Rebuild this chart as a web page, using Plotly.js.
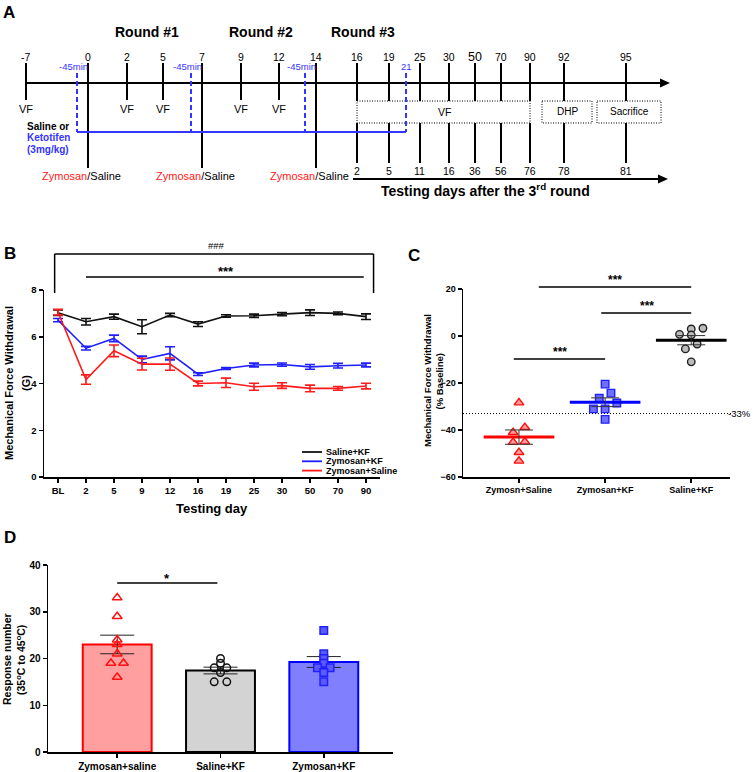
<!DOCTYPE html>
<html><head><meta charset="utf-8">
<script src="https://cdn.plot.ly/plotly-3.0.1.min.js"></script>
<style>html,body{margin:0;padding:0;background:#fff}#chart{width:753px;height:772px}</style>
</head><body><div id="chart"></div>
<script>
// ===================== DATA =====================
// Panel A: experimental timeline (schematic)
const timelineDays = ['-7','0','2','5','7','9','12','14','16','19','25','30','50','70','90','92','95'];
const vfDays = ['-7','2','5','9','12'];
const injectionDays = ['0','7','14'];
const roundLabels = ['Round #1','Round #2','Round #3'];
const daysAfterRound3 = ['2','5','11','16','36','56','76','78','81'];
const round3Start = '16';
const ketotifenEndDay = '21';
const followBoxLabels = ['VF','DHP','Sacrifice'];

// Panel B: mechanical force withdrawal over time
const dayLabels = ['BL','2','5','9','12','16','19','25','30','50','70','90'];
const seriesNames = ['Saline+KF','Zymosan+KF','Zymosan+Saline'];
const salineKF     = [7.03,6.64,6.86,6.43,6.93,6.54,6.89,6.90,6.97,7.03,7.00,6.86];
const salineKFsem  = [0.12,0.14,0.11,0.30,0.07,0.10,0.05,0.07,0.07,0.12,0.06,0.12];
const zymKF        = [6.71,5.51,5.93,5.03,5.29,4.40,4.64,4.79,4.81,4.71,4.76,4.79];
const zymKFsem     = [0.07,0.08,0.14,0.14,0.28,0.06,0.04,0.08,0.07,0.10,0.10,0.08];
const zymSal       = [7.05,4.17,5.40,4.83,4.83,4.00,4.03,3.86,3.91,3.79,3.79,3.89];
const zymSalsem    = [0.12,0.20,0.25,0.25,0.26,0.10,0.20,0.15,0.12,0.14,0.08,0.12];

// Panel C: % baseline
const cLabels = ['Zymosn+Saline','Zymosan+KF','Saline+KF'];
const cZymSal = [-28.4,-38.9,-41.0,-45.0,-45.2,-49.5,-53.2];
const cZymKF  = [-20.5,-24.3,-26.5,-28.5,-31.0,-31.0,-35.5];
const cSalKF  = [3.3,3.0,0.7,0.4,-3.4,-5.5,-11.0];
const cThreshold = -33;

// Panel D: response number
const dLabels = ['Zymosan+saline','Saline+KF','Zymosan+KF'];
const dZymSal = [33,29,24,23,21,19,19,16];
const dSalKF  = [20,19,18,18,17,15,15];
const dZymKF  = [26,21,20,19,18,18,17,15];

// ===================== LAYOUT HELPERS =====================
const W = 753, H = 772;
const FONT = '"Liberation Sans", Arial, Helvetica, sans-serif';
const BLUE = '#3434ff';
const shapes = [], ann = [];
const px = x => x / W, py = y => 1 - y / H;
function T(x, y, text, o = {}) {
  ann.push({xref:'paper', yref:'paper', x:px(x), y:py(y), text, showarrow:false,
    xanchor:o.anchor || 'center', yanchor:'middle', textangle:o.angle || 0, borderpad:0,
    font:{family:FONT, size:o.size || 10, color:o.color || '#000', weight:o.bold ? 'bold' : 'normal'}});
}
function L(x0, y0, x1, y1, color = '#000', width = 2, dash = 'solid') {
  shapes.push({type:'line', xref:'paper', yref:'paper', x0:px(x0), y0:py(y0), x1:px(x1), y1:py(y1),
    line:{color, width, dash}});
}
function R(x0, y0, x1, y1) {
  shapes.push({type:'rect', xref:'paper', yref:'paper', x0:px(x0), y0:py(y0), x1:px(x1), y1:py(y1),
    line:{color:'#000', width:1, dash:'1px,1.5px'}, fillcolor:'rgba(0,0,0,0)'});
}
function Arrow(x, y) {
  shapes.push({type:'path', xref:'paper', yref:'paper',
    path:`M ${px(x-10)} ${py(y-4.5)} L ${px(x)} ${py(y)} L ${px(x-10)} ${py(y+4.5)} Z`,
    fillcolor:'#000', line:{width:0}});
}
// subplot geometry (pixels) used for axis domains and decoration placement
const geom = {
  B:{l:44, r:380, t:290, b:477, xr:[-0.5,11.5], yr:[0,8]},
  C:{l:463, r:730, t:289, b:477, xr:[-0.65,2.45], yr:[-60,20]},
  D:{l:48, r:393, t:565, b:752, xr:[-0.67,2.67], yr:[0,40]}
};
const gx = (g, v) => g.l + (v - g.xr[0]) / (g.xr[1] - g.xr[0]) * (g.r - g.l);
const gy = (g, v) => g.b - (v - g.yr[0]) / (g.yr[1] - g.yr[0]) * (g.b - g.t);
const dom = g => ({x:[px(g.l), px(g.r)], y:[py(g.b), py(g.t)]});

// ===================== PANEL A =====================
const A = {lineY:83, topY:63, vfY:100, labelY:57, vfLabelY:109, injY:168, injLabelY:176,
  boxTop:101, boxBot:123, lowTickEnd:163, lowLabelY:171, lowLineY:179, blueY:132,
  dashTop:73, minLabelY:67, roundY:32};
const timelineX = [26,88,127,163,202,241,279,316,357,389,420,449,475,501,530,564,626];
const ketotifenEndX = 406, pretreatShift = -11;
const xOf = d => timelineX[timelineDays.indexOf(d)];
const firstFollow = timelineDays.indexOf(round3Start);

T(9, 12, 'A', {size:17, bold:true});
L(xOf('-7'), A.lineY, 661, A.lineY); Arrow(670, A.lineY);
L(353, A.lowLineY, 659, A.lowLineY); Arrow(668, A.lowLineY);

timelineDays.forEach((d, i) => {
  const x = xOf(d);
  T(x, A.labelY, d, {size: d === '50' ? 12.5 : 10.5});
  if (i >= firstFollow) {
    L(x, A.topY, x, A.boxTop); L(x, A.boxBot, x, A.lowTickEnd);
    T(x, A.lowLabelY, daysAfterRound3[i - firstFollow], {size:10.5});
  } else if (injectionDays.includes(d)) {
    L(x, A.topY, x, A.injY);
    T(x - 7, A.injLabelY, '<span style="color:#ff2020">Zymosan</span>/Saline', {size:11});
  } else if (vfDays.includes(d)) {
    L(x, A.topY, x, A.vfY);
    T(x, A.vfLabelY, 'VF', {size:11});
  } else {
    L(x, A.topY, x, A.lineY);
  }
});
// follow-up boxes
R(xOf('16'), A.boxTop, xOf('90'), A.boxBot);
T(444, (A.boxTop + A.boxBot) / 2, followBoxLabels[0], {size:10.5});
R(xOf('92') - 22, A.boxTop, xOf('92') + 28, A.boxBot);
T(xOf('92') + 3, (A.boxTop + A.boxBot) / 2, followBoxLabels[1], {size:10});
R(xOf('95') - 29, A.boxTop, xOf('95') + 35, A.boxBot);
T(xOf('95') + 3, (A.boxTop + A.boxBot) / 2, followBoxLabels[2], {size:10});

// rounds
injectionDays.forEach((d, i) => {
  const nx = i < injectionDays.length - 1 ? xOf(injectionDays[i + 1]) : ketotifenEndX;
  T((xOf(d) + nx) / 2 + 2, A.roundY, roundLabels[i], {size:14, bold:true});
});
// pretreatment (blue)
injectionDays.forEach(d => {
  const x = xOf(d) + pretreatShift;
  L(x, A.dashTop, x, A.blueY, BLUE, 2, '5px,3px');
  T(x - 4, A.minLabelY, '-45min', {size:9.5, color:BLUE});
});
L(xOf('0') + pretreatShift, A.blueY, ketotifenEndX, A.blueY, BLUE, 2);
L(ketotifenEndX, A.dashTop, ketotifenEndX, A.blueY, BLUE, 2, '5px,3px');
T(ketotifenEndX, A.minLabelY, ketotifenEndDay, {size:9.5, color:BLUE});
T(48, 126, 'Saline or', {size:10, bold:true});
T(48, 138, 'Ketotifen', {size:10, bold:true, color:BLUE});
T(48, 149, '(3mg/kg)', {size:10, bold:true, color:BLUE});
T(485, 190, 'Testing days after the 3<sup>rd</sup> round', {size:14, bold:true});

// ===================== AXES =====================
const axisBase = {showline:true, linecolor:'#000', linewidth:1.5, ticks:'outside', ticklen:4,
  tickwidth:1.5, tickcolor:'#000', showgrid:false, zeroline:false, fixedrange:true,
  tickfont:{family:FONT, size:9.5, color:'#000', weight:'bold'}};

const data = [];

// ===================== PANEL B =====================
const gB = geom.B;
const bSeries = [
  {y:salineKF, e:salineKFsem, color:'#111111'},
  {y:zymKF, e:zymKFsem, color:'#1f1fff'},
  {y:zymSal, e:zymSalsem, color:'#ff1a1a'}
];
bSeries.forEach((s, i) => data.push({type:'scatter', mode:'lines', name:seriesNames[i],
  x:dayLabels, y:s.y, xaxis:'x2', yaxis:'y2', line:{color:s.color, width:1.6},
  error_y:{type:'data', array:s.e, visible:true, color:s.color, thickness:1.6, width:5},
  showlegend:false, hoverinfo:'skip'}));

T(10, 253, 'B', {size:17, bold:true});
// ### bracket
const bxL = gx(gB, -0.12), bxR = gx(gB, 11.27);
L(bxL, 293, bxL, 254, '#000', 1.5); L(bxL, 254, bxR, 254, '#000', 1.5); L(bxR, 254, bxR, 293, '#000', 1.5);
T(216, 245, '###', {size:9.5});
L(gx(gB, 1), 277, gx(gB, 10.92), 277, '#000', 1.5);
T(226, 271, '***', {size:13, bold:true});
// legend
seriesNames.forEach((n, i) => {
  const y = 452 + 9.3 * i;
  L(302, y, 322, y, bSeries[i].color, 1.8);
  T(325, y, n, {size:9, bold:true, anchor:'left'});
});
T(9, 383, 'Mechanical Force Withdrawal', {size:11, bold:true, angle:-90});
T(26, 383, '(G)', {size:11, bold:true, angle:-90});
T(212, 508, 'Testing day', {size:13, bold:true});

// ===================== swarm placement =====================
function swarm(vals, tol, step) {
  const idx = vals.map((v, i) => i).sort((a, b) => vals[b] - vals[a]);
  const off = new Array(vals.length).fill(0);
  let row = [];
  const flush = () => {
    const r = row.slice().reverse();
    r.forEach((k, j) => { off[k] = (j - (r.length - 1) / 2) * step; });
    row = [];
  };
  idx.forEach(k => { if (row.length && Math.abs(vals[row[0]] - vals[k]) > tol) flush(); row.push(k); });
  flush();
  return off;
}
const mean = a => a.reduce((s, v) => s + v, 0) / a.length;
const sem = a => { const m = mean(a); return Math.sqrt(a.reduce((s, v) => s + (v - m) ** 2, 0) / (a.length - 1)) / Math.sqrt(a.length); };

// ===================== PANEL C =====================
const gC = geom.C;
const cGroups = [
  {v:cZymSal, sym:'triangle-up', fill:'#ff9c9c', line:'#ff1010', mcol:'#ff0000', size:8.5},
  {v:cZymKF, sym:'square', fill:'#6e6eff', line:'#2020ff', mcol:'#0000ff', size:7.5},
  {v:cSalKF, sym:'circle', fill:'#bcbcbc', line:'#222222', mcol:'#000000', size:7.5}
];
cGroups.forEach((g, i) => {
  const off = swarm(g.v, 2.6, 0.136);
  data.push({type:'scatter', mode:'markers', x:g.v.map((v, k) => i + off[k]), y:g.v,
    xaxis:'x3', yaxis:'y3', marker:{symbol:g.sym, size:g.size, color:g.fill, line:{color:g.line, width:1.4}},
    showlegend:false, hoverinfo:'skip'});
});
cGroups.forEach((g, i) => {
  const m = mean(g.v);
  data.push({type:'scatter', mode:'lines', x:[i - 0.41, i + 0.41], y:[m, m], xaxis:'x3', yaxis:'y3',
    line:{color:g.mcol, width:3}, showlegend:false, hoverinfo:'skip'});
  data.push({type:'scatter', mode:'markers', x:[i], y:[m], xaxis:'x3', yaxis:'y3',
    marker:{size:1, color:'rgba(0,0,0,0)'},
    error_y:{type:'data', array:[sem(g.v)], visible:true, color:'#333', thickness:1, width:14},
    showlegend:false, hoverinfo:'skip'});
});
T(414, 255, 'C', {size:17, bold:true});
shapes.push({type:'line', xref:'paper', yref:'paper', x0:px(gC.l), x1:px(731),
  y0:py(gy(gC, cThreshold)), y1:py(gy(gC, cThreshold)), line:{color:'#000', width:1, dash:'1px,2px'}});
T(752, gy(gC, cThreshold), '-33%', {size:9.5, anchor:'right'});
L(gx(gC, 0.23), 287, gx(gC, 2), 287, '#000', 1.5); T(615, 280, '***', {size:12, bold:true});
L(gx(gC, 0.955), 313, gx(gC, 2), 313, '#000', 1.5); T(647, 306, '***', {size:12, bold:true});
L(gx(gC, -0.06), 359, gx(gC, 1), 359, '#000', 1.5); T(560, 352, '***', {size:12, bold:true});
T(427, 381, 'Mechanical Force Withdrawal', {size:9.5, bold:true, angle:-90});
T(438.5, 381, '(% Baseline)', {size:9.5, bold:true, angle:-90});

// ===================== PANEL D =====================
const gD = geom.D;
const dGroups = [
  {v:dZymSal, fill:'#ff9f9f', line:'#ff0000', sym:'triangle-up', mfill:'rgba(0,0,0,0)', mline:'#ff1010', size:8.5},
  {v:dSalKF, fill:'#d3d3d3', line:'#000000', sym:'circle', mfill:'rgba(0,0,0,0)', mline:'#111', size:7.5},
  {v:dZymKF, fill:'#8080ff', line:'#0000ff', sym:'square', mfill:'#5a5aff', mline:'#2020ff', size:7.5}
];
data.push({type:'bar', x:[0, 1, 2], y:dGroups.map(g => mean(g.v)), width:0.667, xaxis:'x4', yaxis:'y4',
  marker:{color:dGroups.map(g => g.fill), line:{color:dGroups.map(g => g.line), width:2}},
  error_y:{type:'data', array:dGroups.map(g => sem(g.v)), visible:true, color:'#222', thickness:1, width:17},
  showlegend:false, hoverinfo:'skip'});
dGroups.forEach((g, i) => {
  const off = swarm(g.v, 0.5, 0.122);
  data.push({type:'scatter', mode:'markers', x:g.v.map((v, k) => i + off[k]), y:g.v, xaxis:'x4', yaxis:'y4',
    marker:{symbol:g.sym, size:g.size, color:g.mfill, line:{color:g.mline, width:1.5}},
    showlegend:false, hoverinfo:'skip'});
});
T(10, 537, 'D', {size:17, bold:true});
L(gx(gD, 0), 583, gx(gD, 0.97), 583, '#000', 1.5); T(167, 578, '*', {size:13, bold:true});
T(7, 659, 'Response number', {size:10.5, bold:true, angle:-90});
T(20, 660, '(35<sup>o</sup>C to 45<sup>o</sup>C)', {size:10.5, bold:true, angle:-90});

// ===================== LAYOUT =====================
const layout = {
  width:W, height:H, margin:{l:0, r:0, t:0, b:0}, paper_bgcolor:'#fff', plot_bgcolor:'rgba(0,0,0,0)',
  showlegend:false, font:{family:FONT, color:'#000'}, bargap:0,
  xaxis2:Object.assign({}, axisBase, {domain:dom(gB).x, anchor:'y2', type:'category', range:gB.xr}),
  yaxis2:Object.assign({}, axisBase, {domain:dom(gB).y, anchor:'x2', range:gB.yr, dtick:2}),
  xaxis3:Object.assign({}, axisBase, {domain:dom(gC).x, anchor:'y3', range:gC.xr, tickvals:[0,1,2], ticktext:cLabels,
    tickfont:{family:FONT, size:9, color:'#000', weight:'bold'}}),
  yaxis3:Object.assign({}, axisBase, {domain:dom(gC).y, anchor:'x3', range:gC.yr, dtick:20,
    tickfont:{family:FONT, size:9, color:'#000', weight:'bold'}}),
  xaxis4:Object.assign({}, axisBase, {domain:dom(gD).x, anchor:'y4', range:gD.xr, tickvals:[0,1,2], ticktext:dLabels,
    tickfont:{family:FONT, size:10, color:'#000', weight:'bold'}}),
  yaxis4:Object.assign({}, axisBase, {domain:dom(gD).y, anchor:'x4', range:gD.yr, dtick:10,
    tickfont:{family:FONT, size:10, color:'#000', weight:'bold'}}),
  shapes, annotations:ann
};
Plotly.newPlot('chart', data, layout, {staticPlot:true, displayModeBar:false});
</script></body></html>
